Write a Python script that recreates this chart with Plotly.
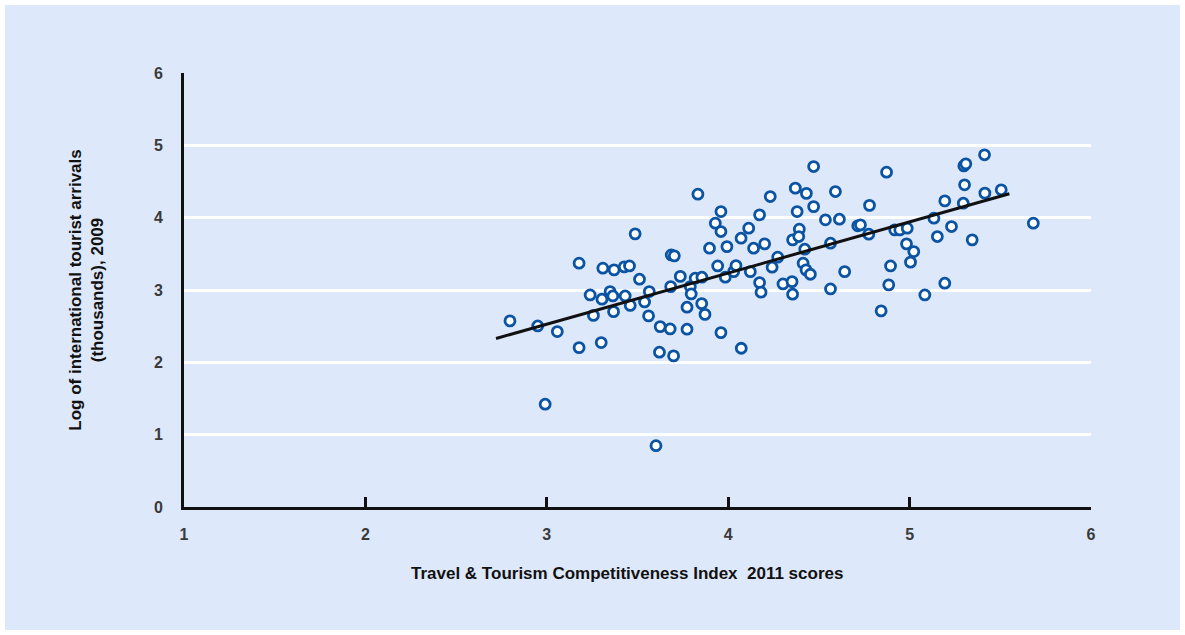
import plotly.graph_objects as go

# Travel & Tourism Competitiveness Index 2011 score per country
ttci_score = [
    2.797, 2.950, 3.058, 2.991, 3.178, 3.178, 3.239, 3.257, 3.309, 3.300,
    3.304, 3.349, 3.364, 3.368, 3.371, 3.427, 3.456, 3.432, 3.460, 3.487,
    3.511, 3.539, 3.565, 3.561, 3.625, 3.621, 3.602, 3.680, 3.699, 3.686,
    3.703, 3.683, 3.736, 3.773, 3.773, 3.791, 3.796, 3.833, 3.818, 3.855,
    3.854, 3.872, 3.897, 3.929, 3.960, 3.960, 3.942, 3.960, 3.984, 3.993,
    4.030, 4.043, 4.071, 4.072, 4.113, 4.122, 4.140, 4.173, 4.173, 4.181,
    4.201, 4.232, 4.242, 4.273, 4.302, 4.352, 4.355, 4.355, 4.370, 4.380,
    4.392, 4.389, 4.413, 4.422, 4.429, 4.453, 4.431, 4.471, 4.471, 4.536,
    4.564, 4.564, 4.591, 4.613, 4.642, 4.714, 4.779, 4.775, 4.729, 4.873,
    4.843, 4.885, 4.895, 4.918, 4.946, 4.987, 4.983, 5.023, 5.005, 5.084,
    5.134, 5.153, 5.194, 5.194, 5.231, 5.296, 5.299, 5.310, 5.303, 5.345,
    5.413, 5.415, 5.505, 5.682,
]

# Log of international tourist arrivals (thousands), 2009
log_arrivals = [
    2.573, 2.503, 2.425, 1.421, 3.371, 2.203, 2.932, 2.649, 3.302, 2.273,
    2.873, 2.978, 2.918, 2.701, 3.278, 3.320, 3.333, 2.918, 2.787, 3.776,
    3.149, 2.835, 2.978, 2.642, 2.494, 2.140, 0.848, 2.462, 2.089, 3.485,
    3.472, 3.047, 3.188, 2.458, 2.762, 3.047, 2.946, 4.325, 3.163, 3.177,
    2.812, 2.663, 3.578, 3.924, 4.084, 3.808, 3.333, 2.411, 3.177, 3.600,
    3.254, 3.338, 3.716, 2.195, 3.855, 3.254, 3.578, 4.039, 3.102, 2.970,
    3.638, 4.292, 3.315, 3.454, 3.084, 3.116, 2.942, 3.693, 4.408, 4.084,
    3.841, 3.739, 3.371, 3.564, 3.278, 3.218, 4.336, 4.707, 4.153, 3.970,
    3.647, 3.015, 4.361, 3.979, 3.254, 3.887, 4.170, 3.772, 3.900, 4.629,
    2.711, 3.071, 3.333, 3.831, 3.831, 3.855, 3.638, 3.531, 3.385, 2.932,
    3.993, 3.739, 4.232, 3.094, 3.877, 4.200, 4.716, 4.744, 4.454, 3.693,
    4.869, 4.339, 4.385, 3.924,
]

# Linear trend line end points
trend_x = [2.72, 5.55]
trend_y = [2.33, 4.33]

x_ticks = [1, 2, 3, 4, 5, 6]
y_ticks = [0, 1, 2, 3, 4, 5, 6]

PANEL = "#dde8fa"
MARK = "#0b53a3"
FONT = "Liberation Sans Narrow, Arial Narrow, Liberation Sans, Arial, sans-serif"

W, H = 1185, 635
ML, MR, MT, MB = 184, 94, 73, 128

fig = go.Figure()

fig.add_trace(go.Scatter(
    x=ttci_score, y=log_arrivals, mode="markers",
    marker=dict(size=10, color="white", line=dict(color=MARK, width=2.8)),
    showlegend=False, hoverinfo="x+y",
))

fig.add_trace(go.Scatter(
    x=trend_x, y=trend_y, mode="lines",
    line=dict(color="#111111", width=3),
    showlegend=False, hoverinfo="skip",
))

pw, ph = W - ML - MR, H - MT - MB
# light-blue panel inset 5px from the page edge
fig.add_shape(
    type="rect", xref="paper", yref="paper", layer="below",
    x0=(5 - ML) / pw, x1=(W - 5 - ML) / pw,
    y0=-(MB - 5) / ph, y1=1 + (MT - 5) / ph,
    fillcolor=PANEL, line=dict(width=0),
)

fig.add_annotation(
    text="Travel & Tourism Competitiveness Index  2011 scores",
    xref="paper", yref="paper",
    x=(627 - ML) / pw, y=-(573 - (H - MB)) / ph,
    xanchor="center", yanchor="middle", showarrow=False,
    font=dict(family=FONT, size=17, color="#111111", weight="bold"),
)

fig.update_layout(
    width=W, height=H,
    margin=dict(l=ML, r=MR, t=MT, b=MB),
    paper_bgcolor="white", plot_bgcolor=PANEL,
    font=dict(family=FONT, color="#333333", size=14),
    xaxis=dict(
        range=[1, 6], tickvals=x_ticks, ticks="inside", ticklen=10,
        tickwidth=3, tickcolor="#111111",
        showline=True, linecolor="#111111", linewidth=3,
        showgrid=False, zeroline=False, ticklabelstandoff=11,
        tickfont=dict(family=FONT, size=16, color="#3a3a3a", weight="bold"),
    ),
    yaxis=dict(
        range=[0, 6], tickvals=y_ticks, ticks="",
        showline=True, linecolor="#111111", linewidth=3,
        showgrid=True, gridcolor="white", gridwidth=3,
        zeroline=False, ticklabelstandoff=15,
        tickfont=dict(family=FONT, size=16, color="#3a3a3a", weight="bold"),
        title=dict(text="Log of international tourist arrivals<br>(thousands), 2009",
                   font=dict(family=FONT, size=17, color="#111111", weight="bold"),
                   standoff=46),
    ),
)

fig.write_html("out.html")
